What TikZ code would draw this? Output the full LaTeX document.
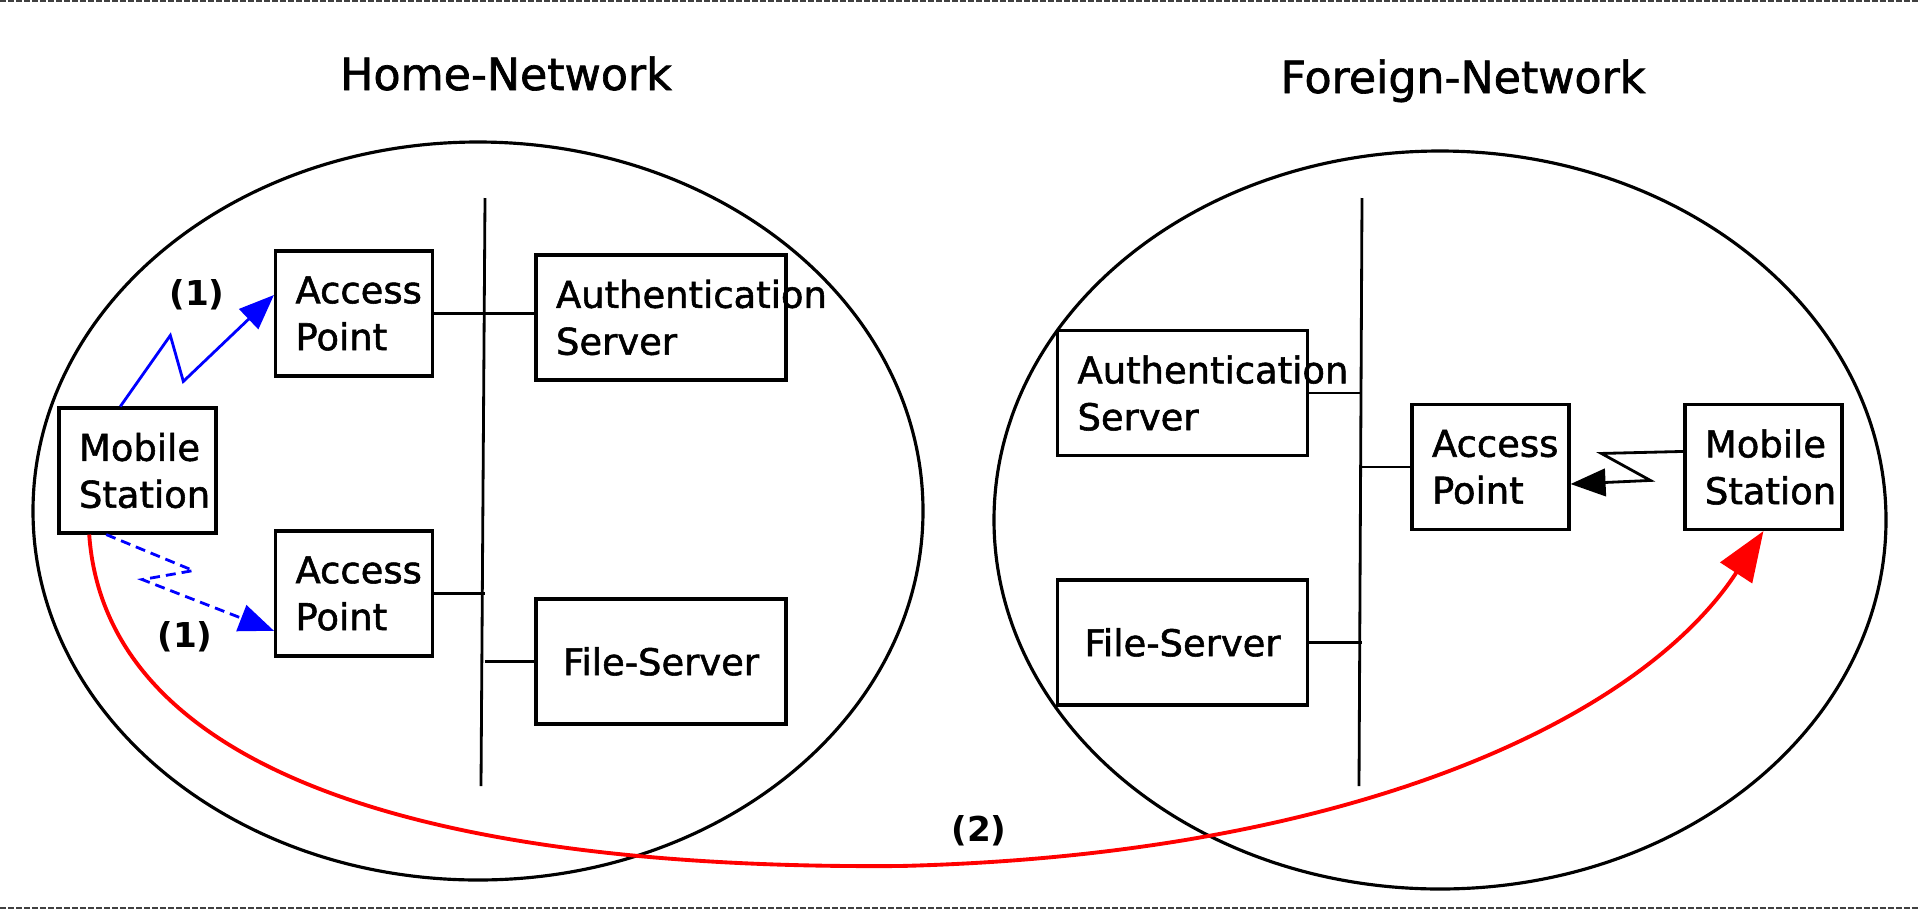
\documentclass[tikz,border=0pt]{standalone}
\usepackage{fontspec}
\setmainfont{DejaVu Sans}[BoldFont={DejaVu Sans}, BoldFeatures={FakeBold=1.5}]
\newfontfamily\labelfont{DejaVu Sans Bold}
\usetikzlibrary{shapes,arrows.meta,positioning}
\hyphenpenalty=10000

\begin{document}
\begin{tikzpicture}[auto, x=0.02cm, y=-0.02cm, node distance=5.6cm, >={Triangle[length=7mm,width=5.5mm]}]
    \tikzset{font={\fontsize{21pt}{26.7pt}\selectfont\bfseries}}
    \tikzset{netbox/.style={draw, line width=1.8pt, minimum height=2.5cm, inner xsep=4mm, align=left},
      smallbox/.style={netbox, text width=2.34cm},
      widebox/.style={netbox, text width=4.2cm},
      link/.style={line width=1.6pt},
      title/.style={anchor=base, font={\fontsize{25.2pt}{30pt}\selectfont\bfseries}},
      num/.style={font={\fontsize{19.5pt}{24pt}\selectfont\labelfont}}}
    \useasboundingbox (0,0) rectangle (1920,910);
    \draw[black!75, line width=0.6pt, dash pattern=on 1.2mm off 0.4mm] (0,1) -- (1920,1);
    \draw[black!75, line width=0.6pt, dash pattern=on 1.2mm off 0.4mm] (0,908) -- (1920,908);

    \node[title] (homet) at (506,90) {Home-Network};
    \node[title] (foreignt) at (1463,93) {Foreign-Network};
    \draw[line width=1.8pt] (478,511) ellipse [x radius=445, y radius=369];
    \draw[line width=1.8pt] (1440,520) ellipse [x radius=446, y radius=369];

    % home network
    \node[smallbox] (msh) at (137.5,470.5) {Mobile\\Station};
    \node[smallbox] (apt) at (354,313.5) {Access\\Point};
      \node[smallbox, below of=apt] (apb) {Access\\Point};
    \node[widebox] (ash) at (661,317.5) {Authentication\\Server};
      \node[widebox, align=center, below of=ash, node distance=6.88cm] (fsh) {File-Server};
    \coordinate (busht) at (485,198);
    \coordinate (bushb) at (481,786);
    \draw[link] (busht) -- (bushb);
    \draw[link] (apt.east) -- (apt.east -| ash.west);
    \draw[link] (apb.east) -- (apb.east -| busht);
    \draw[link] (fsh.west) -- (fsh.west -| busht);

    % foreign network
    \node[widebox] (asf) at (1182.5,393) {Authentication\\Server};
      \node[widebox, align=center, below of=asf, node distance=4.99cm] (fsf) {File-Server};
    \node[smallbox] (apf) at (1490.5,467) {Access\\Point};
      \node[smallbox, right of=apf, node distance=5.46cm] (msf) {Mobile\\Station};
    \coordinate (busft) at (1362,198);
    \coordinate (busfb) at (1359,786);
    \draw[link] (busft) -- (busfb);
    \draw[link] (asf.east) -- (asf.east -| busft);
    \draw[link] (apf.west) -- (apf.west -| busft);
    \draw[link] (fsf.east) -- (fsf.east -| busft);

    % radio links
    \draw[->, blue, link] (msh.105) -- ++(50,-71) -- ++(13,46) -- (apt.167);
    \draw[->, blue, link, dash pattern=on 2mm off 1.2mm] (msh.244) -- ++(87,36) -- ++(-51,9) -- (apb.205);
    \draw[->, link] (msf.169) -- ++(-82,2) -- ++(49,27) -- (apf.348);
    \draw[-{Triangle[length=10mm,width=7.5mm]}, red, line width=2.2pt] (msh.233) .. controls (105,760) and (400,870) .. (900,866) .. controls (1350,855) and (1640,720) .. (msf.south);
    \node[num] (n1) at (197,295) {(1)};
    \node[num] (n2) at (185,637) {(1)};
    \node[num] (n3) at (979,831) {(2)};
\end{tikzpicture}
\end{document}
